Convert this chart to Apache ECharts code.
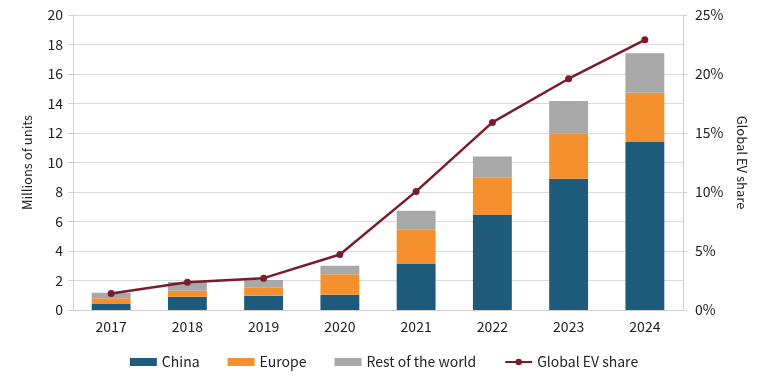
<!DOCTYPE html>
<html><head><meta charset="utf-8">
<script src="https://cdn.jsdelivr.net/npm/echarts@6/dist/echarts.min.js"></script>
<style>html,body{margin:0;padding:0;background:#fff}#c{width:768px;height:384px}</style>
</head><body><div id="c"></div>
<script>
const years = ['2017','2018','2019','2020','2021','2022','2023','2024'];
const china = [0.41, 0.90, 0.97, 1.04, 3.12, 6.44, 8.90, 11.39];
const europe = [0.38, 0.41, 0.54, 1.38, 2.35, 2.56, 3.05, 3.34];
const restOfWorld = [0.38, 0.59, 0.52, 0.58, 1.26, 1.40, 2.22, 2.67];
const evShare = [1.4, 2.35, 2.7, 4.7, 10.05, 15.9, 19.6, 22.9];
const leftTicks = {min:0, max:20, interval:2};
const rightTicks = {min:0, max:25, interval:5};

const font = '"Noto Sans CJK JP", "DejaVu Sans", sans-serif';
const chart = echarts.init(document.getElementById('c'), null, {renderer:'canvas'});
chart.setOption({
  animation:false,
  textStyle:{fontFamily:font},
  grid:{left:73, right:85, top:15, bottom:74},
  legend:{
    bottom:10, left:'center', itemWidth:27, itemHeight:8, itemGap:28,
    textStyle:{fontSize:14, color:'#222', fontFamily:font},
    data:[{name:'China', icon:'rect'},{name:'Europe', icon:'rect'},{name:'Rest of the world', icon:'rect'},{name:'Global EV share'}]
  },
  xAxis:{
    type:'category', data:years,
    axisLine:{lineStyle:{color:'#d0d0d0'}},
    axisTick:{show:false},
    axisLabel:{fontSize:14, color:'#222', margin:10}
  },
  yAxis:[{
    type:'value', min:leftTicks.min, max:leftTicks.max, interval:leftTicks.interval,
    name:'Millions of units', nameLocation:'middle', nameGap:39,
    nameTextStyle:{fontSize:13, color:'#222'},
    axisLine:{show:true, lineStyle:{color:'#d0d0d0'}},
    axisTick:{show:true, length:5, lineStyle:{color:'#d0d0d0'}},
    axisLabel:{fontSize:14, color:'#222', margin:10},
    splitLine:{lineStyle:{color:'#d9d9d9'}}
  },{
    type:'value', min:rightTicks.min, max:rightTicks.max, interval:rightTicks.interval,
    name:'Global EV share', nameLocation:'middle', nameGap:52, nameRotate:-90,
    nameTextStyle:{fontSize:13, color:'#222'},
    axisLine:{show:true, lineStyle:{color:'#d0d0d0'}},
    axisTick:{show:true, length:4, lineStyle:{color:'#d0d0d0'}},
    axisLabel:{fontSize:14, color:'#222', margin:12, formatter:'{value}%'},
    splitLine:{show:false}
  }],
  series:[
    {name:'China', type:'bar', stack:'s', data:china, barWidth:'51%', itemStyle:{color:'#1d5a7c'}},
    {name:'Europe', type:'bar', stack:'s', data:europe, itemStyle:{color:'#f5902e'}},
    {name:'Rest of the world', type:'bar', stack:'s', data:restOfWorld, itemStyle:{color:'#a8a8a8'}},
    {name:'Global EV share', type:'line', yAxisIndex:1, data:evShare,
     symbol:'circle', symbolSize:7, lineStyle:{width:2.5, color:'#7a1c2b'}, itemStyle:{color:'#7a1c2b'}}
  ]
});
</script></body></html>
